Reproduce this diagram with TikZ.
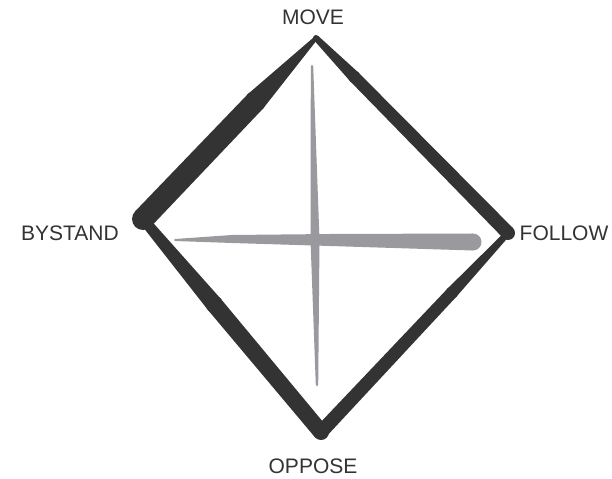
\documentclass[tikz,border=0pt]{standalone}
\usepackage{fontspec}
\setmainfont{Liberation Sans}
\usetikzlibrary{calc}

\definecolor{ink}{HTML}{333333}
\definecolor{pencil}{HTML}{9A9A9E}

% tapered brush stroke: colour, from, to, half width at from, half width at to
\newcommand{\brushline}[5]{%
  \fill[#1] ($(#2)!#4!90:(#3)$) -- ($(#3)!#5!-90:(#2)$) -- ($(#3)!#5!90:(#2)$) -- ($(#2)!#4!-90:(#3)$) -- cycle;
  \fill[#1] (#2) circle[radius=#4];
  \fill[#1] (#3) circle[radius=#5];
}

\begin{document}
\begin{tikzpicture}[x=1bp, y=-1bp,
        label text/.style={font=\fontsize{21bp}{25bp}\selectfont, text=ink, inner sep=0pt}
    ]
    \useasboundingbox (0,0) rectangle (612,479);

    % corners
    \coordinate (movec) at (316,38);
    \coordinate (followc) at (508,233);
    \coordinate (opposec) at (321,432);
    \coordinate (bystandc) at (143,219);
    % where the brush reaches full width
    \coordinate (mbmid) at ($(movec)!0.35!(bystandc)$);
    \coordinate (mfmid) at ($(movec)!0.2!(followc)$);
    \coordinate (fomid) at ($(followc)!0.3!(opposec)$);
    \coordinate (bomid) at ($(bystandc)!0.4!(opposec)$);

    % cross
    \coordinate (hleft) at (175,240);
    \coordinate (hleftb) at (232,239);
    \coordinate (hmid) at (330,240);
    \coordinate (hright) at (473,242);
    \coordinate (vtop) at (312,66);
    \coordinate (vmid) at (315,240);
    \coordinate (vbot) at (317,385);

    \node [label text] (move) at (313,17) {MOVE};
    \node [label text] (follow) at (564,233) {FOLLOW};
    \node [label text] (oppose) at (313,466) {OPPOSE};
    \node [label text] (bystand) at (70,233) {BYSTAND};

    \brushline{pencil}{hleft}{hleftb}{1bp}{4bp}
    \brushline{pencil}{hleftb}{hmid}{4bp}{6bp}
    \brushline{pencil}{hmid}{hright}{6bp}{8.5bp}
    \brushline{pencil}{vtop}{vmid}{1.2bp}{4.5bp}
    \brushline{pencil}{vbot}{vmid}{1.2bp}{4.5bp}

    \brushline{ink}{movec}{mbmid}{2bp}{10.5bp}
    \brushline{ink}{mbmid}{bystandc}{10.5bp}{11bp}
    \brushline{ink}{movec}{mfmid}{3bp}{6bp}
    \brushline{ink}{mfmid}{followc}{6bp}{7bp}
    \brushline{ink}{followc}{fomid}{3bp}{6bp}
    \brushline{ink}{fomid}{opposec}{6bp}{7bp}
    \brushline{ink}{bystandc}{bomid}{5bp}{8.5bp}
    \brushline{ink}{bomid}{opposec}{8.5bp}{8bp}
\end{tikzpicture}
\end{document}
